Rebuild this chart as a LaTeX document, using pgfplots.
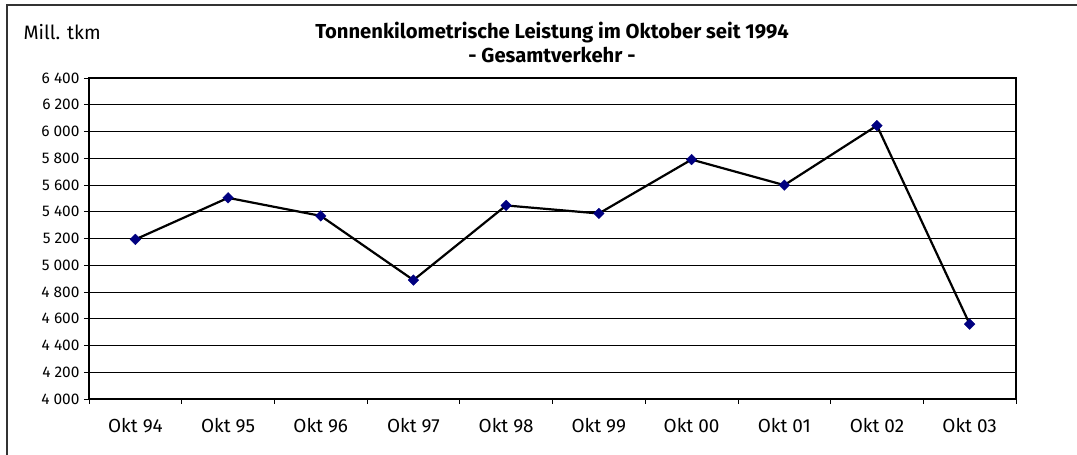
\documentclass[border=0pt]{standalone}
\usepackage{fontspec}
\setmainfont{Fira Sans}
\usepackage{pgfplots}
\pgfplotsset{compat=1.18}

\definecolor{navymark}{HTML}{000080}

\begin{document}
\begin{tikzpicture}[x=1bp,y=1bp]
  % page = picture, 1bp per reference pixel; axis box at (0,0)
  \path[use as bounding box] (-89,-56) rectangle (988,399);
  \begin{axis}[
      scale only axis,
      width=927bp, height=321bp,
      xmin=-0.5, xmax=9.5,
      ymin=4000, ymax=6400,
      ytick={4000,4200,...,6400},
      xtick={0,...,9},
      xticklabels={Okt 94,Okt 95,Okt 96,Okt 97,Okt 98,Okt 99,Okt 00,Okt 01,Okt 02,Okt 03},
      minor xtick={-0.5,0.5,...,9.5},
      major x tick style={draw=none},
      minor tick length=5bp,
      major tick length=5bp,
      tick align=outside,
      xtick pos=bottom, ytick pos=left,
      ymajorgrids,
      grid style={black, line width=0.7bp},
      axis line style={black, line width=2.2bp},
      tick style={black, line width=0.7bp},
      yticklabel style={font=\fontsize{15.5}{17}\selectfont, xshift=-1bp},
      xticklabel style={font=\fontsize{19}{21}\selectfont, yshift=-11bp},
      /pgf/number format/.cd, 1000 sep={\ }, assume math mode=true,
      /pgfplots/.cd,
      clip=false,
    ]
    \addplot[black, line width=2.2bp, mark=square*, mark size=3.8bp,
      mark options={rotate=45, fill=navymark, draw=navymark, line width=0.3bp}]
      coordinates {
        (0,5193) (1,5504) (2,5369) (3,4889) (4,5447)
        (5,5387) (6,5790) (7,5599) (8,6044) (9,4560)
      };
  \end{axis}
  % outer chart frame (only left and top edges are inside the picture)
  \draw[black!80, line width=1.2bp] (-82,-60) -- (-82,394) -- (992,394);
  \node[anchor=base west, font=\fontsize{19.5}{21}\selectfont] at (-69,359) {Mill. tkm};
  \node[anchor=base, font=\bfseries\fontsize{20.3}{22}\selectfont] at (463,360)
    {Tonnenkilometrische Leistung im Oktober seit 1994};
  \node[anchor=base, font=\bfseries\fontsize{20.3}{22}\selectfont] at (463,336)
    {- Gesamtverkehr -};
\end{tikzpicture}
\end{document}
